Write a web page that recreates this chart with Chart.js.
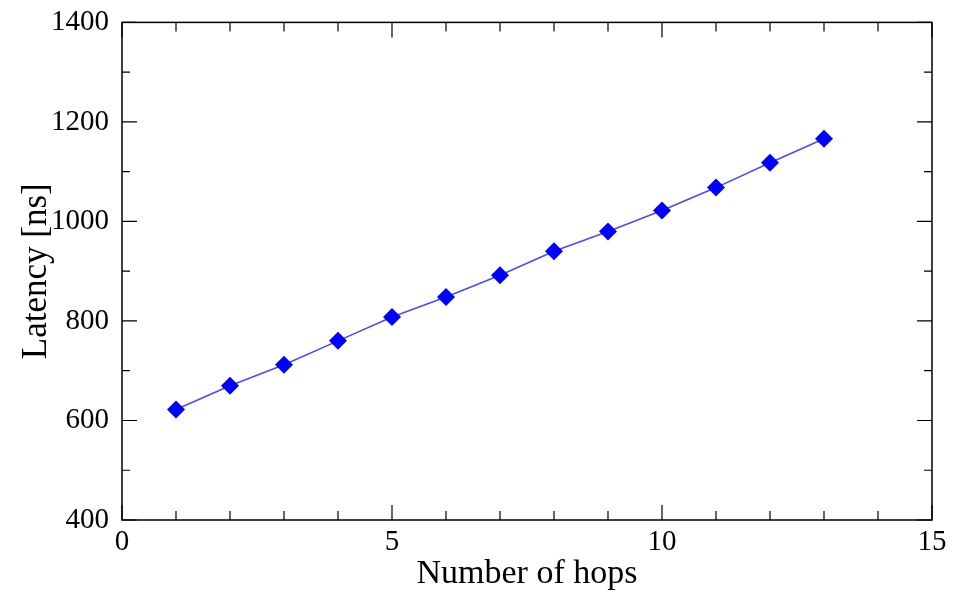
<!DOCTYPE html>
<html>
<head>
<meta charset="utf-8">
<script src="https://cdn.jsdelivr.net/npm/chart.js@4.4.1/dist/chart.umd.min.js"></script>
<style>
    html, body { margin: 0; padding: 0; background: #fff; }
    #wrap { width: 959px; height: 594px; }
</style>
</head>
<body>
<div id="wrap"><canvas id="chart"></canvas></div>
<script>
// hops vs latency
const hops = [1, 2, 3, 4, 5, 6, 7, 8, 9, 10, 11, 12, 13];
const latency = [622, 670, 712, 760, 808, 848, 892, 940, 980, 1022, 1068, 1118, 1166];

const xRange = [0, 15];
const yRange = [400, 1400];
const xMajorStep = 5;
const yMajorStep = 200;

const FONT = "'Liberation Serif', 'Times New Roman', serif";

// frame + inward ticks, like the xmgrace plot
const frameTicks = {
    id: 'frameTicks',
    afterDraw(chart) {
        const {ctx, chartArea: a, scales} = chart;
        const x = scales.x, y = scales.y;
        ctx.save();
        ctx.strokeStyle = '#000';
        ctx.lineWidth = 1.5;
        ctx.strokeRect(a.left, a.top, a.right - a.left, a.bottom - a.top);

        ctx.lineWidth = 1.2;
        ctx.beginPath();
        for (let v = x.min; v <= x.max; v += 1) {
            const px = x.getPixelForValue(v);
            const len = v % xMajorStep === 0 ? 15 : 9;
            ctx.moveTo(px, a.bottom); ctx.lineTo(px, a.bottom - len);
            ctx.moveTo(px, a.top); ctx.lineTo(px, a.top + len);
        }
        for (let v = y.min; v <= y.max; v += 100) {
            const py = y.getPixelForValue(v);
            const len = v % yMajorStep === 0 ? 15 : 8;
            ctx.moveTo(a.left, py); ctx.lineTo(a.left + len, py);
            ctx.moveTo(a.right, py); ctx.lineTo(a.right - len, py);
        }
        ctx.stroke();
        ctx.restore();
    }
};

new Chart(document.getElementById('chart'), {
    type: 'line',
    data: {
        datasets: [{
            data: hops.map((h, i) => ({x: h, y: latency[i]})),
            borderColor: '#4a4aff',
            borderWidth: 1.6,
            backgroundColor: '#0000ff',
            pointBackgroundColor: '#0000ff',
            pointBorderColor: '#0000ff',
            pointStyle: 'rectRot',
            pointRadius: 9,
            pointBorderWidth: 0,
            tension: 0
        }]
    },
    options: {
        responsive: true,
        maintainAspectRatio: false,
        animation: false,
        layout: {padding: {top: 20, right: 27, left: 0, bottom: 0}},
        plugins: {legend: {display: false}, tooltip: {enabled: false}},
        scales: {
            x: {
                type: 'linear',
                min: xRange[0],
                max: xRange[1],
                grid: {display: false},
                border: {display: false},
                ticks: {
                    stepSize: xMajorStep,
                    padding: -3,
                    color: '#000',
                    font: {family: FONT, size: 29}
                },
                title: {
                    display: true,
                    text: 'Number of hops',
                    color: '#000',
                    padding: {top: 0, bottom: 0},
                    font: {family: FONT, size: 34}
                },
                afterFit(scale) { scale.height = 74; }
            },
            y: {
                min: yRange[0],
                max: yRange[1],
                grid: {display: false},
                border: {display: false},
                ticks: {
                    stepSize: yMajorStep,
                    padding: 5,
                    color: '#000',
                    font: {family: FONT, size: 29},
                    callback: (v) => String(v)
                },
                title: {
                    display: true,
                    text: 'Latency [ns]',
                    color: '#000',
                    padding: {top: 16, bottom: 0},
                    font: {family: FONT, size: 35}
                },
                afterFit(scale) { scale.width = 122; }
            }
        }
    },
    plugins: [frameTicks]
});
</script>
</body>
</html>
